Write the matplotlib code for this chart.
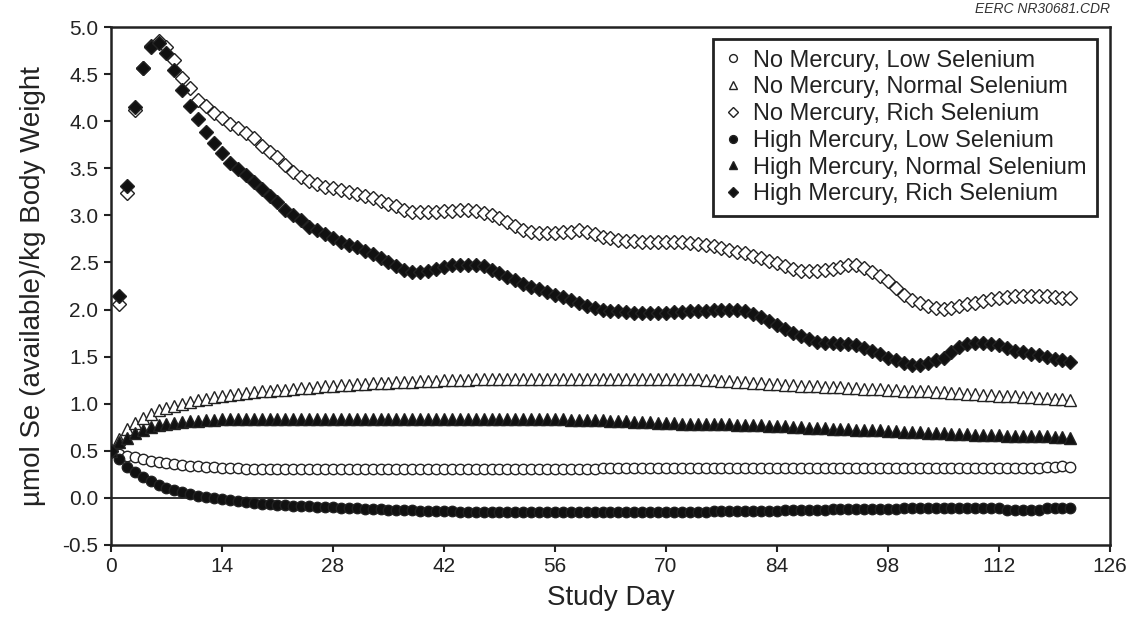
import matplotlib
matplotlib.use("Agg")
import matplotlib.pyplot as plt

plt.rcParams['font.family'] = ['Liberation Sans', 'DejaVu Sans']

days = list(range(0, 122))

no_hg_low = [
    0.50, 0.47, 0.45, 0.43, 0.41, 0.39, 0.38, 0.37, 0.36, 0.35,
    0.34, 0.34, 0.33, 0.33, 0.32, 0.32, 0.32, 0.31, 0.31, 0.31,
    0.31, 0.31, 0.31, 0.31, 0.31, 0.31, 0.31, 0.31, 0.31, 0.31,
    0.31, 0.31, 0.31, 0.31, 0.31, 0.31, 0.31, 0.31, 0.31, 0.31,
    0.31, 0.31, 0.31, 0.31, 0.31, 0.31, 0.31, 0.31, 0.31, 0.31,
    0.31, 0.31, 0.31, 0.31, 0.31, 0.31, 0.31, 0.31, 0.31, 0.31,
    0.31, 0.31, 0.32, 0.32, 0.32, 0.32, 0.32, 0.32, 0.32, 0.32,
    0.32, 0.32, 0.32, 0.32, 0.32, 0.32, 0.32, 0.32, 0.32, 0.32,
    0.32, 0.32, 0.32, 0.32, 0.32, 0.32, 0.32, 0.32, 0.32, 0.32,
    0.32, 0.32, 0.32, 0.32, 0.32, 0.32, 0.32, 0.32, 0.32, 0.32,
    0.32, 0.32, 0.32, 0.32, 0.32, 0.32, 0.32, 0.32, 0.32, 0.32,
    0.32, 0.32, 0.32, 0.32, 0.32, 0.32, 0.32, 0.32, 0.33, 0.33,
    0.34, 0.33,
]

no_hg_normal = [
    0.50, 0.63, 0.73, 0.80, 0.85, 0.89, 0.93, 0.96, 0.98, 1.00,
    1.02, 1.04, 1.05, 1.07, 1.08, 1.09, 1.10, 1.11, 1.12, 1.13,
    1.14, 1.15, 1.15, 1.16, 1.17, 1.17, 1.18, 1.19, 1.19, 1.20,
    1.20, 1.21, 1.21, 1.22, 1.22, 1.22, 1.23, 1.23, 1.23, 1.24,
    1.24, 1.24, 1.25, 1.25, 1.25, 1.25, 1.26, 1.26, 1.26, 1.26,
    1.26, 1.26, 1.26, 1.26, 1.26, 1.26, 1.26, 1.26, 1.26, 1.26,
    1.26, 1.26, 1.26, 1.26, 1.26, 1.26, 1.26, 1.26, 1.26, 1.26,
    1.26, 1.26, 1.26, 1.26, 1.26, 1.25, 1.25, 1.24, 1.24, 1.23,
    1.23, 1.22, 1.22, 1.21, 1.21, 1.20, 1.20, 1.19, 1.19, 1.19,
    1.18, 1.18, 1.18, 1.17, 1.17, 1.16, 1.16, 1.16, 1.15, 1.15,
    1.14, 1.14, 1.13, 1.13, 1.12, 1.12, 1.11, 1.11, 1.10, 1.10,
    1.09, 1.09, 1.08, 1.08, 1.08, 1.07, 1.07, 1.06, 1.06, 1.05,
    1.05, 1.04,
]

no_hg_rich = [
    0.50, 2.06, 3.24, 4.12, 4.57, 4.80, 4.85, 4.79, 4.65, 4.46,
    4.35, 4.23, 4.16, 4.09, 4.03, 3.97, 3.93, 3.87, 3.82, 3.74,
    3.67, 3.62, 3.53, 3.46, 3.41, 3.37, 3.33, 3.30, 3.29, 3.27,
    3.25, 3.23, 3.21, 3.18, 3.15, 3.12, 3.10, 3.06, 3.04, 3.04,
    3.04, 3.04, 3.05, 3.05, 3.06, 3.06, 3.05, 3.03, 3.00, 2.97,
    2.93, 2.89, 2.85, 2.82, 2.81, 2.81, 2.81, 2.82, 2.82, 2.84,
    2.82, 2.80, 2.77, 2.76, 2.74, 2.73, 2.73, 2.72, 2.72, 2.72,
    2.72, 2.72, 2.72, 2.71, 2.70, 2.69, 2.67, 2.65, 2.63, 2.61,
    2.60, 2.57, 2.55, 2.52, 2.49, 2.46, 2.43, 2.41, 2.41, 2.41,
    2.42, 2.43, 2.45, 2.47, 2.47, 2.44, 2.40, 2.36, 2.30, 2.23,
    2.16, 2.10, 2.07, 2.04, 2.02, 2.01, 2.02, 2.04, 2.06, 2.07,
    2.09, 2.11, 2.12, 2.13, 2.14, 2.14, 2.14, 2.14, 2.14, 2.13,
    2.12, 2.12,
]

hg_low = [
    0.50, 0.41, 0.33, 0.27, 0.22, 0.18, 0.14, 0.11, 0.08, 0.06,
    0.04, 0.02, 0.01, 0.00, -0.01, -0.02, -0.03, -0.04, -0.05, -0.06,
    -0.07, -0.075, -0.08, -0.085, -0.09, -0.09, -0.095, -0.10, -0.10, -0.105,
    -0.11, -0.11, -0.115, -0.12, -0.12, -0.125, -0.13, -0.13, -0.13, -0.135,
    -0.135, -0.14, -0.14, -0.14, -0.145, -0.15, -0.15, -0.15, -0.15, -0.15,
    -0.15, -0.15, -0.15, -0.15, -0.15, -0.15, -0.15, -0.15, -0.15, -0.15,
    -0.15, -0.15, -0.15, -0.15, -0.15, -0.15, -0.15, -0.15, -0.15, -0.15,
    -0.15, -0.15, -0.15, -0.15, -0.15, -0.15, -0.14, -0.14, -0.14, -0.14,
    -0.14, -0.14, -0.14, -0.14, -0.14, -0.13, -0.13, -0.13, -0.13, -0.13,
    -0.13, -0.12, -0.12, -0.12, -0.12, -0.12, -0.12, -0.12, -0.12, -0.12,
    -0.11, -0.11, -0.11, -0.11, -0.11, -0.11, -0.11, -0.11, -0.11, -0.11,
    -0.11, -0.11, -0.11, -0.13, -0.13, -0.13, -0.13, -0.13, -0.11, -0.11,
    -0.11, -0.11,
]

hg_normal = [
    0.50, 0.59, 0.64, 0.69, 0.72, 0.75, 0.77, 0.79, 0.80, 0.81,
    0.82, 0.82, 0.83, 0.83, 0.84, 0.84, 0.84, 0.84, 0.84, 0.84,
    0.84, 0.84, 0.84, 0.84, 0.84, 0.84, 0.84, 0.84, 0.84, 0.84,
    0.84, 0.84, 0.84, 0.84, 0.84, 0.84, 0.84, 0.84, 0.84, 0.84,
    0.84, 0.84, 0.84, 0.84, 0.84, 0.84, 0.84, 0.84, 0.84, 0.84,
    0.84, 0.84, 0.84, 0.84, 0.84, 0.84, 0.84, 0.84, 0.83, 0.83,
    0.83, 0.83, 0.83, 0.82, 0.82, 0.82, 0.81, 0.81, 0.81, 0.80,
    0.80, 0.80, 0.79, 0.79, 0.79, 0.78, 0.78, 0.78, 0.78, 0.77,
    0.77, 0.77, 0.77, 0.76, 0.76, 0.76, 0.75, 0.75, 0.74, 0.74,
    0.74, 0.73, 0.73, 0.73, 0.72, 0.72, 0.72, 0.72, 0.71, 0.71,
    0.70, 0.70, 0.70, 0.69, 0.69, 0.69, 0.68, 0.68, 0.68, 0.67,
    0.67, 0.67, 0.67, 0.66, 0.66, 0.66, 0.66, 0.66, 0.66, 0.65,
    0.65, 0.64,
]

hg_rich = [
    0.50, 2.14, 3.31, 4.15, 4.57, 4.79, 4.83, 4.72, 4.54, 4.33,
    4.16, 4.02, 3.89, 3.77, 3.66, 3.56, 3.49, 3.43, 3.35, 3.28,
    3.21, 3.14, 3.06, 3.00, 2.95, 2.88, 2.84, 2.80, 2.76, 2.72,
    2.69, 2.66, 2.62, 2.59, 2.55, 2.51, 2.46, 2.42, 2.40, 2.40,
    2.41, 2.43, 2.45, 2.47, 2.47, 2.47, 2.47, 2.46, 2.42, 2.39,
    2.35, 2.31, 2.27, 2.24, 2.22, 2.19, 2.16, 2.13, 2.10, 2.07,
    2.04, 2.02, 2.00, 1.99, 1.98, 1.97, 1.96, 1.96, 1.96, 1.96,
    1.96, 1.97, 1.97, 1.98, 1.98, 1.99, 2.00, 2.00, 2.00, 2.00,
    1.99, 1.95, 1.92, 1.88, 1.84, 1.79, 1.75, 1.72, 1.69, 1.66,
    1.65, 1.64, 1.63, 1.63, 1.62, 1.59, 1.56, 1.53, 1.49, 1.46,
    1.43, 1.41, 1.41, 1.43, 1.46, 1.49, 1.55, 1.60, 1.63, 1.64,
    1.64, 1.63, 1.62, 1.59, 1.56, 1.55, 1.53, 1.52, 1.50, 1.48,
    1.46, 1.44,
]

labels = [
    "No Mercury, Low Selenium",
    "No Mercury, Normal Selenium",
    "No Mercury, Rich Selenium",
    "High Mercury, Low Selenium",
    "High Mercury, Normal Selenium",
    "High Mercury, Rich Selenium",
]
x_ticks = [0, 14, 28, 42, 56, 70, 84, 98, 112, 126]
y_ticks = [-0.5, 0.0, 0.5, 1.0, 1.5, 2.0, 2.5, 3.0, 3.5, 4.0, 4.5, 5.0]

series = [no_hg_low, no_hg_normal, no_hg_rich, hg_low, hg_normal, hg_rich]
styles = [
    dict(marker='o', ms=7.5, mfc='white'),
    dict(marker='^', ms=8.5, mfc='white'),
    dict(marker='D', ms=6.8, mfc='white'),
    dict(marker='o', ms=7.5, mfc='#111111'),
    dict(marker='^', ms=8.5, mfc='#111111'),
    dict(marker='D', ms=6.8, mfc='#111111'),
]

fig = plt.figure(figsize=(11.32, 6.21), dpi=100)
ax = fig.add_axes([0.098, 0.1224, 0.8826, 0.834])

ax.axhline(0, color='#222222', lw=1.3, zorder=1)

for vals, lab, st in zip(series, labels, styles):
    ax.plot(days, vals, linestyle='none', marker=st['marker'], markersize=st['ms'],
            markerfacecolor=st['mfc'], markeredgecolor='#222222', markeredgewidth=1.0,
            label=lab, zorder=3)

ax.set_xlim(0, 126)
ax.set_ylim(-0.5, 5.0)
ax.set_xticks(x_ticks)
ax.set_xticklabels([str(t) for t in x_ticks])
ax.set_yticks(y_ticks)
ax.set_yticklabels([f"{t:.1f}" for t in y_ticks])
ax.tick_params(direction='out', length=5, width=1.5, labelsize=15, colors='#222222', pad=4)

for sp in ax.spines.values():
    sp.set_linewidth(1.8)
    sp.set_color('#222222')

ax.set_xlabel("Study Day", fontsize=20, color='#222222', labelpad=6)
ax.set_ylabel("µmol Se (available)/kg Body Weight", fontsize=20, color='#222222', labelpad=12)

leg = ax.legend(loc='upper right', bbox_to_anchor=(0.987, 0.977), fontsize=17,
                frameon=True, fancybox=False, framealpha=1, edgecolor='#222222',
                handlelength=0.8, handletextpad=0.45, labelspacing=0.2,
                borderpad=0.45, markerscale=0.75, borderaxespad=0)
leg.get_frame().set_linewidth(2.0)
for t in leg.get_texts():
    t.set_color('#222222')

fig.text(0.981, 0.975, "EERC NR30681.CDR", ha='right', va='bottom', fontsize=10,
         style='italic', color='#333333')

fig.savefig("out.png", dpi=100, facecolor='white')
